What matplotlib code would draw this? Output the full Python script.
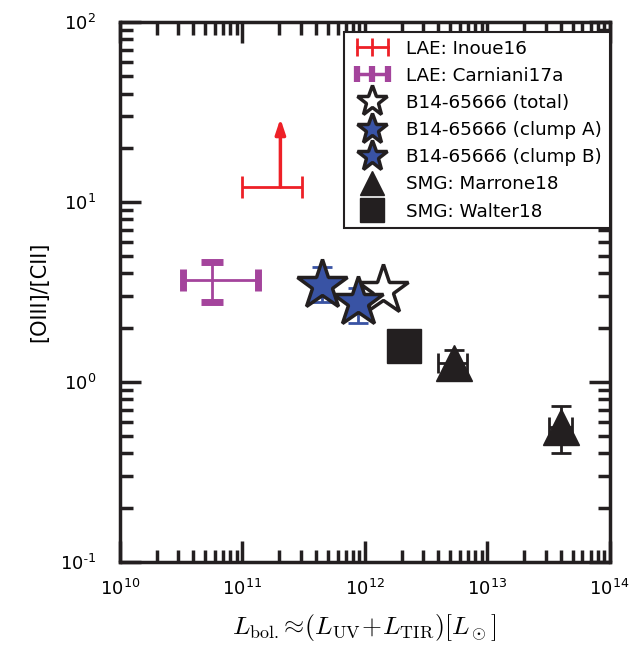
import numpy as np
import matplotlib.pyplot as plt
from matplotlib.lines import Line2D
from matplotlib.legend_handler import HandlerLine2D

# ---------------------- data ----------------------
inoue_x, inoue_y = 2.05e11, 12.1
inoue_xlo, inoue_xhi = 1.0e11, 3.1e11
arrow_factor = 2.4

carn_x, carn_y = 5.7e10, 3.69
carn_xlo, carn_xhi = 3.3e10, 1.35e11
carn_ylo, carn_yhi = 2.78, 4.64

tot_x, tot_y = 1.4e12, 3.25

clumpA_x, clumpA_y = 4.5e11, 3.46
clumpA_ylo, clumpA_yhi = 2.78, 4.35
clumpB_x, clumpB_y = 8.9e11, 2.78
clumpB_ylo, clumpB_yhi = 2.13, 3.33

marrone_x = [5.4e12, 4.0e13]
marrone_y = [1.28, 0.56]
marrone_xlo = [4.0e12, 3.2e13]
marrone_xhi = [6.9e12, 4.9e13]
marrone_ylo = [1.10, 0.40]
marrone_yhi = [1.50, 0.735]

walter_x, walter_y = 2.1e12, 1.58

labels = ['LAE: Inoue16', 'LAE: Carniani17a', 'B14-65666 (total)',
          'B14-65666 (clump A)', 'B14-65666 (clump B)', 'SMG: Marrone18', 'SMG: Walter18']

red = '#ee2027'
purple = '#a4449c'
blue = '#3953a4'
dark = '#231f20'

plt.rcParams['mathtext.fontset'] = 'cm'

fig = plt.figure(figsize=(6.37, 6.45), dpi=100)
ax = fig.add_axes([0.188, 0.129, 0.769, 0.837])
ax.set_xscale('log')
ax.set_yscale('log')

# LAE Inoue16 (lower limit)
ax.errorbar([inoue_x], [inoue_y],
            xerr=[[inoue_x - inoue_xlo], [inoue_xhi - inoue_x]],
            fmt='none', ecolor=red, elinewidth=2, capsize=8, capthick=2, zorder=3)
ax.annotate('', xy=(inoue_x, inoue_y * arrow_factor), xytext=(inoue_x, inoue_y),
            arrowprops=dict(arrowstyle='-|>,head_length=0.9,head_width=0.3',
                            color=red, lw=2.5, shrinkA=0, shrinkB=0))

# LAE Carniani17a
ax.errorbar([carn_x], [carn_y],
            xerr=[[carn_x - carn_xlo], [carn_xhi - carn_x]],
            yerr=[[carn_y - carn_ylo], [carn_yhi - carn_y]],
            fmt='none', ecolor=purple, elinewidth=2, capsize=8, capthick=5, zorder=3)

# clumps
ax.errorbar([clumpA_x], [clumpA_y], yerr=[[clumpA_y - clumpA_ylo], [clumpA_yhi - clumpA_y]],
            fmt='none', ecolor=blue, elinewidth=2, capsize=7, capthick=2, zorder=3)
ax.errorbar([clumpB_x], [clumpB_y], yerr=[[clumpB_y - clumpB_ylo], [clumpB_yhi - clumpB_y]],
            fmt='none', ecolor=blue, elinewidth=2, capsize=7, capthick=2, zorder=3)

ax.plot([tot_x], [tot_y], marker='*', ms=38, mfc='white', mec=dark, mew=2.5,
        ls='none', zorder=4)
ax.plot([clumpA_x], [clumpA_y], marker='*', ms=38, mfc=blue, mec=dark, mew=2.5,
        ls='none', zorder=6)
ax.plot([clumpB_x], [clumpB_y], marker='*', ms=38, mfc=blue, mec=dark, mew=2.5,
        ls='none', zorder=5)

# SMGs
mx = np.array(marrone_x)
my = np.array(marrone_y)
ax.errorbar(mx, my,
            xerr=[mx - np.array(marrone_xlo), np.array(marrone_xhi) - mx],
            yerr=[my - np.array(marrone_ylo), np.array(marrone_yhi) - my],
            fmt='none', ecolor=dark, elinewidth=2, capsize=7, capthick=2, zorder=3)
ax.plot(mx, my, marker='^', ms=26, mfc=dark, mec=dark, ls='none', zorder=4)
ax.plot([walter_x], [walter_y], marker='s', ms=25, mfc=dark, mec=dark, ls='none', zorder=4)

ax.set_xlim(1e10, 1e14)
ax.set_ylim(0.1, 100)

ax.set_xlabel(r'$L_{\rm bol.}\!\approx\!(L_{\rm UV}\!+\!L_{\rm TIR})[L_\odot]$',
              fontsize=18.5, labelpad=10)
ax.set_ylabel('[OIII]/[CII]', fontsize=15, labelpad=8)

for s in ax.spines.values():
    s.set_linewidth(2.5)
    s.set_color(dark)
ax.tick_params(which='both', direction='in', top=True, right=True, color=dark, labelsize=13)
ax.tick_params(axis='x', which='major', pad=12)
ax.tick_params(axis='y', which='major', pad=17)
ax.tick_params(which='major', length=15, width=2.5)
ax.tick_params(which='minor', length=9, width=2.5)
ax.set_xticks([1e10, 1e11, 1e12, 1e13, 1e14])
ax.set_xticklabels([r'$\mathregular{10^{%d}}$' % e for e in range(10, 15)])
ax.set_yticks([0.1, 1, 10, 100])
ax.set_yticklabels([r'$\mathregular{10^{\text{-}1}}$', r'$\mathregular{10^{0}}$',
                    r'$\mathregular{10^{1}}$', r'$\mathregular{10^{2}}$'])

# legend
lae1 = Line2D([], [], color=red, lw=2, marker='|', ms=13, mew=2)
lae2 = Line2D([], [], color=purple, lw=2.5, marker='|', ms=12, mew=4.5)
handles = [lae1, lae2,
           Line2D([], [], marker='*', ms=23, mfc='white', mec=dark, mew=2.5, ls='none'),
           Line2D([], [], marker='*', ms=23, mfc=blue, mec=dark, mew=2.5, ls='none'),
           Line2D([], [], marker='*', ms=23, mfc=blue, mec=dark, mew=2.5, ls='none'),
           Line2D([], [], marker='^', ms=17, mfc=dark, mec=dark, ls='none'),
           Line2D([], [], marker='s', ms=17, mfc=dark, mec=dark, ls='none')]
leg = ax.legend(handles, labels, loc='upper right', bbox_to_anchor=(1.0, 0.981),
                fontsize=13.2, fancybox=False, edgecolor=dark, framealpha=1,
                borderaxespad=0, handlelength=2.3, labelspacing=0.5,
                handletextpad=0.7, borderpad=0.4,
                handler_map={lae1: HandlerLine2D(numpoints=3),
                             lae2: HandlerLine2D(numpoints=3)})
leg.get_frame().set_linewidth(1.5)

fig.savefig('out.png', dpi=100)
